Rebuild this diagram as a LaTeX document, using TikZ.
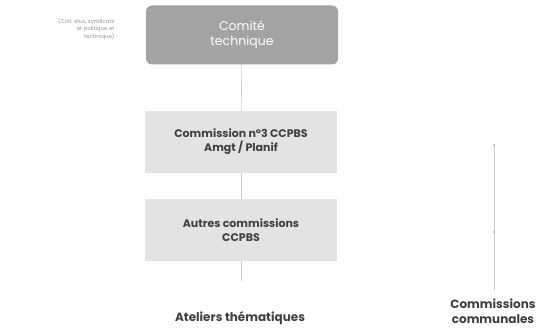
\documentclass[tikz,border=0pt]{standalone}
\usepackage{fontspec}
\setmainfont{Poppins}
\begin{document}
\begin{tikzpicture}[x=1pt,y=1pt,
  darkbox/.style={draw=none,fill=black!36,rounded corners=6pt,minimum width=192pt,minimum height=59pt,text=white,align=center,font=\fontsize{12.5}{15}\selectfont},
  lightbox/.style={draw=none,fill=black!11,minimum width=192pt,minimum height=62pt,text=black!75,align=center,font=\bfseries\fontsize{11}{14}\selectfont},
  plain/.style={text=black!75,align=center,font=\bfseries\fontsize{12}{15}\selectfont},
  note/.style={text=black!40,align=right,font=\fontsize{5.5}{7.5}\selectfont},
  link/.style={draw=black!20,line width=0.6pt}]
\fill[white] (0,0) rectangle (544,334);
\useasboundingbox (0,0) rectangle (544,334);
\node[darkbox] (ct) at (242,299) {Comité\\technique};
\node[note,anchor=east] (nt) at (118,305) {(Coll. élus, syndicats\\et politique et\\technique)};
\node[lightbox] (c3) at (241,192) {Commission n°3 CCPBS\\Amgt / Planif};
\node[lightbox] (ac) at (241,104) {Autres commissions\\CCPBS};
\coordinate (acend) at (241,53);
\node[plain] (at) at (240,16) {Ateliers thématiques};
\node[plain] (cc) at (493,23) {Commissions\\communales};
\coordinate (cctop) at (494,189);
\coordinate (ccmid) at (494,102);
\coordinate (ccbot) at (494,44);
\draw[link] (ct) -- (c3);
\draw[link] (c3) -- (ac);
\draw[link] (ac) -- (acend);
\draw[link] (cctop) -- (ccbot);
\fill[black!25] (cctop) circle (1.3pt);
\fill[black!25] (ccmid) circle (1.3pt);
\end{tikzpicture}
\end{document}
